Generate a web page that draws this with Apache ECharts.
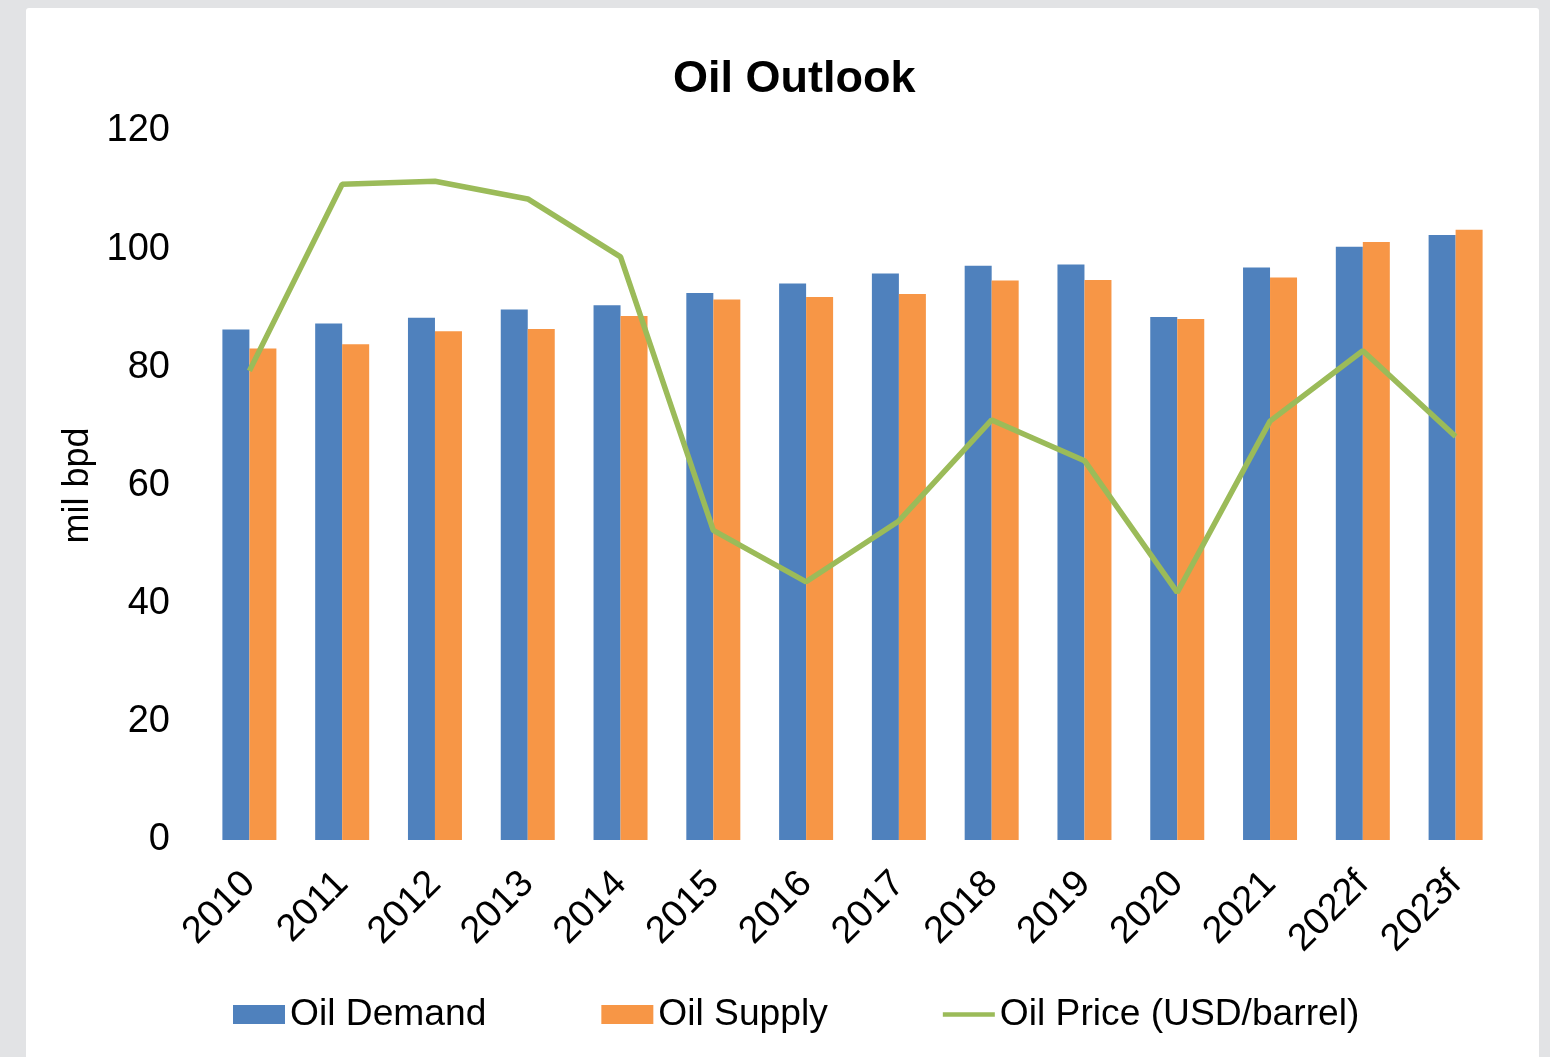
<!DOCTYPE html>
<html>
<head>
<meta charset="utf-8">
<title>Oil Outlook</title>
<script src="https://cdn.jsdelivr.net/npm/echarts@6/dist/echarts.min.js"></script>
<style>
    html, body { margin: 0; padding: 0; background: #e2e3e5; }
    #panel { position: absolute; left: 26px; top: 8px; width: 1513px; height: 1060px; background: #ffffff; border-radius: 3px; }
    #chart { position: absolute; left: 0; top: 0; width: 1550px; height: 1057px; }
</style>
</head>
<body>
<div id="panel"></div>
<div id="chart"></div>
<script>
// values
let years = ['2010', '2011', '2012', '2013', '2014', '2015', '2016', '2017', '2018', '2019', '2020', '2021', '2022f', '2023f'];
let oilDemand = [86.4, 87.4, 88.4, 89.8, 90.5, 92.6, 94.2, 95.9, 97.2, 97.4, 88.5, 96.9, 100.4, 102.4];
let oilSupply = [83.2, 83.9, 86.1, 86.5, 88.7, 91.5, 91.9, 92.4, 94.7, 94.8, 88.2, 95.2, 101.2, 103.3];
let oilPrice = [79.4, 111.0, 111.5, 108.5, 98.7, 52.4, 43.7, 54.0, 71.1, 64.2, 41.9, 70.9, 82.8, 68.3];
let yTicks = { min: 0, max: 120, step: 20 };

let font = '"Liberation Sans", Arial, sans-serif';

let chart = echarts.init(document.getElementById('chart'), null, { renderer: 'canvas' });
let options = {
    backgroundColor: 'transparent',
    animation: false,
    title: {
        text: 'Oil Outlook',
        left: 673,
        top: 57,
        padding: 0,
        textStyle: { fontFamily: font, fontSize: 45, fontWeight: 'bold', color: '#000' }
    },
    legend: {
        left: 233,
        top: 996,
        padding: 0,
        itemWidth: 52,
        itemHeight: 19,
        itemGap: 115,
        symbolKeepAspect: true,
        textStyle: { fontFamily: font, fontSize: 37.2, color: '#000' },
        data: [
            { name: 'Oil Demand', icon: 'rect' },
            { name: 'Oil Supply', icon: 'rect' },
            // plain line in the legend, no marker
            { name: 'Oil Price (USD/barrel)', icon: 'path://M0,0 L56,0 L56,5 L0,5 Z' }
        ]
    },
    grid: { left: 203, right: 48, top: 131, bottom: 217, containLabel: false },
    xAxis: {
        type: 'category',
        data: years,
        axisLine: { show: false },
        axisTick: { show: false },
        axisLabel: { interval: 0, rotate: 45, margin: 38, fontFamily: font, fontSize: 38, color: '#000' }
    },
    yAxis: {
        type: 'value',
        min: yTicks.min,
        max: yTicks.max,
        interval: yTicks.step,
        name: 'mil bpd',
        nameLocation: 'middle',
        nameGap: 106,
        nameTextStyle: { fontFamily: font, fontSize: 36, color: '#000' },
        axisLine: { show: false },
        axisTick: { show: false },
        splitLine: { show: false },
        axisLabel: {
            margin: 33,
            padding: [6, 0, 0, 0],
            backgroundColor: 'rgba(0,0,0,0)',
            fontFamily: font,
            fontSize: 38,
            color: '#000'
        }
    },
    series: [
        {
            name: 'Oil Demand',
            type: 'bar',
            data: oilDemand,
            barWidth: 27,
            barGap: '0%',
            itemStyle: { color: '#4f81bd' }
        },
        {
            name: 'Oil Supply',
            type: 'bar',
            data: oilSupply,
            barWidth: 27,
            barGap: '0%',
            itemStyle: { color: '#f79646' }
        },
        {
            name: 'Oil Price (USD/barrel)',
            type: 'line',
            data: oilPrice,
            symbol: 'none',
            z: 5,
            lineStyle: { color: '#9bbb59', width: 5.5 },
            itemStyle: { color: '#9bbb59' }
        }
    ]
};
chart.setOption(options);
</script>
</body>
</html>
